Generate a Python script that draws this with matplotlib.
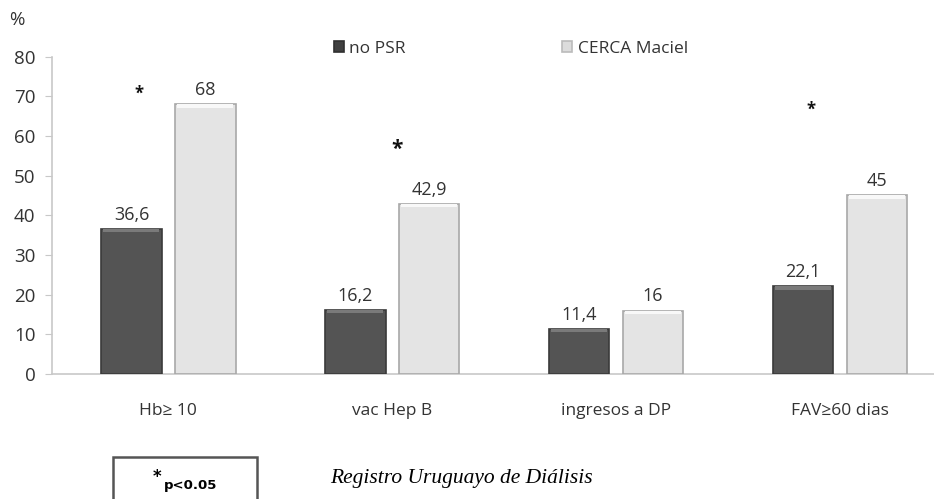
import matplotlib
matplotlib.use("Agg")
import matplotlib.pyplot as plt
import numpy as np
from matplotlib.patches import Rectangle

categories = ["Hb\u2265 10", "vac Hep B", "ingresos a DP", "FAV\u226560 dias"]
no_psr = [36.6, 16.2, 11.4, 22.1]
cerca = [68, 42.9, 16, 45]
no_psr_labels = ["36,6", "16,2", "11,4", "22,1"]
cerca_labels = ["68", "42,9", "16", "45"]
# significance marks: (category index, x offset, height, size)
stars = [(0, -0.13, 70.5, 12), (1, 0.02, 56.5, 15), (3, -0.13, 66.5, 12)]

plt.rcParams["font.family"] = ["Open Sans", "DejaVu Sans"]

fig = plt.figure(figsize=(9.34, 4.99), dpi=100)
ax = fig.add_axes([52 / 934, 1 - 374 / 499, 900 / 934, (374 - 56.5) / 499])

x = np.arange(len(categories))
w = 0.27
dark = "#545454"
light = "#e4e4e4"
b1 = ax.bar(x - 0.165, no_psr, w, color=dark, edgecolor="#3a3a3a", linewidth=1.2,
            label="no PSR", zorder=3)
b2 = ax.bar(x + 0.165, cerca, w, color=light, edgecolor="#a8a8a8", linewidth=1.2,
            label="CERCA Maciel", zorder=3)

# thin bevel strip on top of each bar
for bars, top in ((b1, "#7a7a7a"), (b2, "#f8f8f8")):
    for r in bars:
        ax.add_patch(Rectangle((r.get_x() + 0.01, r.get_height() - 0.9), r.get_width() - 0.02, 0.9,
                               color=top, zorder=4, linewidth=0))

for xi, v, t in zip(x - 0.165, no_psr, no_psr_labels):
    ax.text(xi, v + 1.3, t, ha="center", va="bottom", fontsize=13, color="#333333")
for xi, v, t in zip(x + 0.165, cerca, cerca_labels):
    ax.text(xi, v + 1.3, t, ha="center", va="bottom", fontsize=13, color="#333333")

for i, dx, h, s in stars:
    ax.text(i + dx, h, "*", ha="center", va="center", fontsize=s, color="#111111",
            fontweight="bold")

ax.set_xlim(-0.52, 3.5)
ax.set_ylim(0, 80)
ax.set_yticks(range(0, 81, 10))
ax.set_xticks(x)
ax.set_xticklabels(categories)
ax.tick_params(axis="y", length=5, color="#c8c8c8", labelsize=13.5, labelcolor="#333333", pad=7)
ax.tick_params(axis="x", length=0, labelsize=12.5, labelcolor="#333333", pad=21)
for side in ("top", "right"):
    ax.spines[side].set_visible(False)
ax.spines["left"].set_color("#c8c8c8")
ax.spines["bottom"].set_color("#c8c8c8")
ax.spines["left"].set_linewidth(1.2)
ax.spines["bottom"].set_linewidth(1.2)

fig.text(9 / 934, 1 - 20 / 499, "%", fontsize=13.5, color="#333333", va="center")

leg = ax.legend(loc="upper left", bbox_to_anchor=(318 / 934, 1 - 25 / 499),
                bbox_transform=fig.transFigure, ncol=2, frameon=False,
                fontsize=12.5, handlelength=0.6, handleheight=0.6, handletextpad=0.3,
                columnspacing=9.0, labelcolor="#333333")
for h, c in zip(leg.legend_handles, ("#404040", "#dcdcdc")):
    h.set_facecolor(c)
    h.set_edgecolor("#bbbbbb" if c == "#dcdcdc" else "#303030")

# footnote box
fig.patches.append(Rectangle((113 / 934, -0.05), 144 / 934, (499 - 457) / 499 + 0.05,
                             transform=fig.transFigure, fill=False, edgecolor="#555555",
                             linewidth=1.8))
fig.text(157 / 934, 1 - 477 / 499, "*", ha="center", va="center", fontsize=12,
         family="DejaVu Sans", fontweight="bold")
fig.text(164 / 934, 1 - 486 / 499, "p<0.05", ha="left", va="center", fontsize=9.5,
         family="DejaVu Sans", fontweight="bold")
fig.text(330 / 934, 1 - 479 / 499, "Registro Uruguayo de Di\u00e1lisis", ha="left",
         va="center", fontsize=15.5, family="Liberation Serif", style="italic")

fig.savefig("out.png", dpi=100)
